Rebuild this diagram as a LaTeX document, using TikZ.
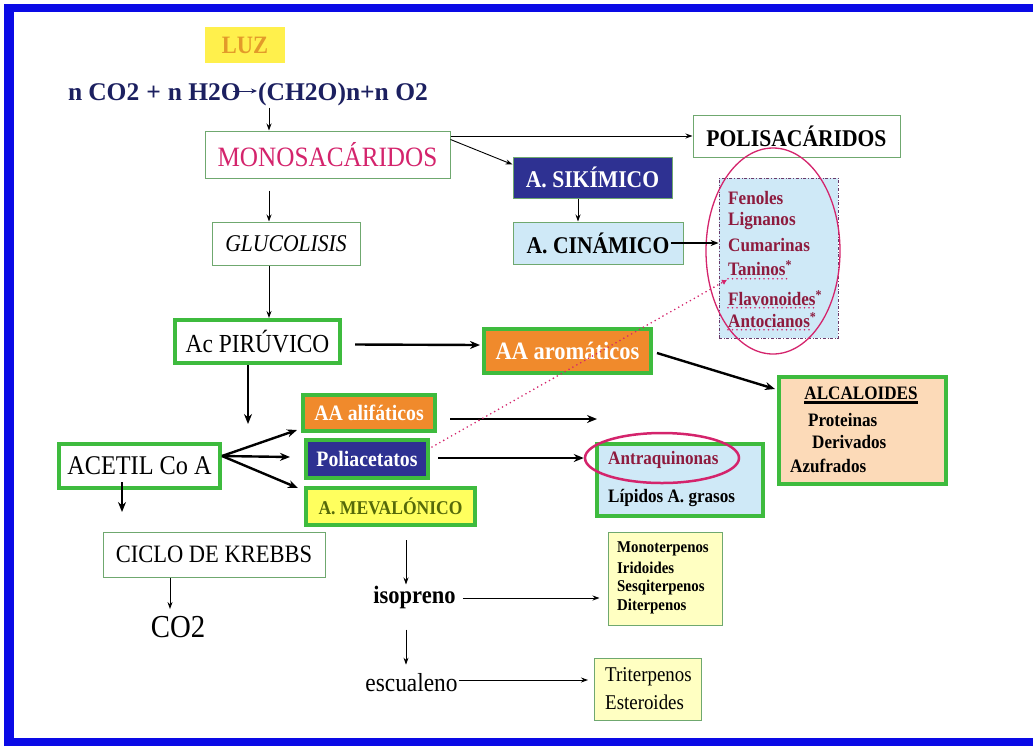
\documentclass[tikz,border=0pt]{standalone}
\usepackage{fontspec}
\setmainfont[FakeStretch=0.9]{Liberation Serif}
\newfontfamily\eqfont{Liberation Serif}
\usetikzlibrary{arrows.meta,calc,shapes.geometric}

\definecolor{frameblue}{HTML}{0A0AE6}
\definecolor{navybox}{HTML}{2E3192}
\definecolor{orangebox}{HTML}{F08A2C}
\definecolor{yellowbox}{HTML}{FFFF5E}
\definecolor{paleyellow}{HTML}{FFFFC2}
\definecolor{paleblue}{HTML}{CFE9F7}
\definecolor{peach}{HTML}{FCDAB8}
\definecolor{thingreen}{HTML}{6FA86F}
\definecolor{thickgreen}{HTML}{3EBB3E}
\definecolor{maroon}{HTML}{8E1B3E}
\definecolor{rosy}{HTML}{D4246C}
\definecolor{eqnavy}{HTML}{1C2060}
\definecolor{luzgold}{HTML}{E39A2A}
\definecolor{luzbox}{HTML}{FFF04C}
\definecolor{olivetext}{HTML}{55690A}
\definecolor{listframe}{HTML}{6A3A6A}

\newcommand\fsz[1]{\fontsize{#1}{#1}\selectfont}

\tikzset{
  thinbox/.style={draw=thingreen, line width=1pt, fill=white, inner sep=0pt},
  thickbox/.style={draw=thickgreen, line width=4pt, inner sep=0pt},
  txt/.style={inner sep=0pt, anchor=west},
  eqtext/.style={inner sep=0pt, text=eqnavy, font=\eqfont\fsz{25.5}\bfseries},
  arr/.style={-{Stealth[length=7pt,width=5pt]}, line width=0.9pt},
  midarr/.style={-{Stealth[length=8pt,width=6pt]}, line width=1.4pt},
  bigarr/.style={-{Stealth[length=10pt,width=8pt]}, line width=2.4pt},
  pinkdots/.style={rosy, line width=1.8pt, line cap=round, dash pattern=on 0pt off 4.5pt},
}

\begin{document}
\begin{tikzpicture}[x=1pt,y=-1pt]
\useasboundingbox (0,0) rectangle (1033,748);

% blue frame
\fill[frameblue] (4,4) rectangle (1033,12);
\fill[frameblue] (4,4) rectangle (14,746);
\fill[frameblue] (4,738) rectangle (1033,746);

% photosynthesis
\node[fill=luzbox, minimum width=80pt, minimum height=36pt, text=luzgold,
      font=\fsz{25}\bfseries] (luz) at (245,45) {LUZ};
\node[eqtext, anchor=base east] (eqL) at (241,100)
  {n\hspace{6pt}CO2\hspace{7pt}+\hspace{7pt}n H2O};
\node[eqtext, anchor=base west] (eqR) at (258,100) {(CH2O)n+n O2};
\draw[-{Stealth[length=6pt,width=5pt]}, line width=1pt, eqnavy]
  ($(eqL.base east)+(-8,-9)$) -- ($(eqR.base west)+(-1,-9)$);

% carbohydrate branch
\node[thinbox, minimum width=245pt, minimum height=47pt, text=rosy, font=\fsz{28}]
  (mono) at (327.5,154.5) {MONOSACÁRIDOS};
\node[thinbox, minimum width=207pt, minimum height=42pt, font=\fsz{24}\bfseries]
  (poli) at (796.5,136) {POLISACÁRIDOS};
\node[thinbox, fill=navybox, minimum width=159pt, minimum height=41pt, text=white,
      font=\fsz{24}\bfseries] (sik) at (592.5,177.5) {A. SIKÍMICO};
\node[thinbox, fill=paleblue, minimum width=170pt, minimum height=42pt,
      font=\fsz{24}\bfseries] (cin) at (598,243) {A. CINÁMICO};

% phenolic products
\node[draw=listframe, dash dot, line width=0.8pt, fill=paleblue, minimum width=119pt,
      minimum height=160pt] (list) at (778.5,258) {};
\begin{scope}[every node/.style={txt, text=maroon, font=\fsz{19}\bfseries}]
  \node (fen) at (728,198) {Fenoles};
  \node (lig) at (728,221) {Lignanos};
  \node (cum) at (728,245) {Cumarinas};
  \node (tan) at (728,268) {Taninos\textsuperscript{*}};
  \node (fla) at (728,298) {Flavonoides\textsuperscript{*}};
  \node (ant) at (728,320) {Antocianos\textsuperscript{*}};
\end{scope}
\draw[pinkdots] ($(tan.south west)+(0,3)$) -- ($(tan.south east)+(-5,3)$);
\draw[pinkdots] ($(fla.south west)+(0,2)$) -- ($(fla.south east)+(-5,2)$);
\draw[pinkdots] ($(ant.south west)+(0,2)$) -- ($(ant.south east)+(-5,2)$);
\node[ellipse, draw=rosy, line width=1.3pt, minimum width=134pt, minimum height=206pt,
      inner sep=0pt] (ell) at (773,251) {};

% glycolysis column
\node[thinbox, minimum width=148pt, minimum height=43pt, font=\fsz{24}\itshape]
  (glu) at (286,243.5) {GLUCOLISIS};
\node[thickbox, fill=white, minimum width=165pt, minimum height=43pt, font=\fsz{26}]
  (pir) at (257.5,341.5) {Ac PIRÚVICO};
\node[thickbox, fill=orangebox, minimum width=167pt, minimum height=44pt, text=white,
      font=\fsz{25}\bfseries] (aro) at (567.5,351) {AA aromáticos};

% alkaloids
\node[thickbox, fill=peach, minimum width=167pt, minimum height=107pt] (alc) at (862.5,430.5) {};
\node[inner sep=0pt, font=\fsz{19}\bfseries] (alct) at (861,393) {ALCALOIDES};
\draw[line width=2.6pt] ($(alct.south west)+(0,3)$) -- ($(alct.south east)+(0,3)$);
\begin{scope}[every node/.style={txt, font=\fsz{19}\bfseries}]
  \node (prot) at (808,420) {Proteinas};
  \node (deri) at (812,442) {Derivados};
  \node (azuf) at (790,466) {Azufrados};
\end{scope}

% acetyl-CoA branch
\node[thickbox, fill=white, minimum width=161pt, minimum height=44pt, font=\fsz{27}]
  (ace) at (139.5,466) {ACETIL Co A};
\node[thickbox, fill=orangebox, minimum width=132pt, minimum height=36pt, text=white,
      font=\fsz{22}\bfseries] (alif) at (369,413) {AA alifáticos};
\node[thickbox, fill=navybox, minimum width=122pt, minimum height=38pt, text=white,
      font=\fsz{22}\bfseries] (polia) at (367,459) {Poliacetatos};
\node[thickbox, fill=yellowbox, minimum width=169pt, minimum height=37pt, text=olivetext,
      font=\fsz{19.5}\bfseries] (mev) at (390.5,506.5) {A. MEVALÓNICO};

% polyketide products
\node[thickbox, fill=paleblue, minimum width=166pt, minimum height=72pt] (antbox) at (680,480) {};
\node[txt, text=maroon, font=\fsz{19}\bfseries] (antq) at (608,460) {Antraquinonas};
\node[txt, font=\fsz{19}\bfseries] (lip) at (608,498) {Lípidos A. grasos};
\node[ellipse, draw=rosy, line width=2.5pt, minimum width=154pt, minimum height=50pt,
      inner sep=0pt] (antell) at (662,458) {};

% Krebs cycle
\node[thinbox, minimum width=222pt, minimum height=45pt, font=\fsz{25}]
  (krebbs) at (214,554.5) {CICLO DE KREBBS};
\node[inner xsep=0pt, inner ysep=7pt, font=\fsz{32}] (co2) at (178,627) {CO2};

% terpenoid route
\node[inner sep=1pt, font=\fsz{25}\bfseries] (iso) at (414.5,597) {isopreno};
\node[inner sep=1pt, font=\fsz{26}] (esc) at (411.5,683) {escualeno};
\node[thinbox, fill=paleyellow, minimum width=114pt, minimum height=93pt] (terp1) at (665,578.5) {};
\begin{scope}[every node/.style={txt, font=\fsz{16.5}\bfseries}]
  \node (mt) at (617,549) {Monoterpenos};
  \node (ir) at (617,568) {Iridoides};
  \node (sq) at (617,588) {Sesqiterpenos};
  \node (dt) at (617,607) {Diterpenos};
\end{scope}
\node[thinbox, fill=paleyellow, minimum width=107pt, minimum height=62pt] (terp2) at (648,689) {};
\begin{scope}[every node/.style={txt, font=\fsz{21}}]
  \node (tri) at (605,677) {Triterpenos};
  \node (est) at (605,702) {Esteroides};
\end{scope}

% column guides for vertical connectors
\coordinate (cA) at (269,0);
\coordinate (cB) at (578,0);
\coordinate (cC) at (248,0);
\coordinate (cD) at (122,0);
\coordinate (cE) at (170,0);
\coordinate (cF) at (406,0);
\coordinate (pdrop) at (248,424);
\coordinate (adrop) at (122,512);
\coordinate (alifend) at (597,419);

% connectors
\draw[arr] ($(eqR.south -| cA)+(0,2)$) -- (mono.north -| cA);
\draw[arr] (mono.east |- poli.west) -- (poli.west);
\draw[arr] ($(mono.north east)+(0,9)$) -- ($(sik.north west)+(0,8)$);
\draw[arr] (sik.south -| cB) -- (cin.north -| cB);
\draw[midarr] ($(cin.east)+(-13,0)$) -- (list.west |- cin.east);
\draw[arr] ($(mono.south -| cA)+(0,12)$) -- (glu.north -| cA);
\draw[arr] (glu.south -| cA) -- (pir.north -| cA);
\draw[bigarr] ($(pir.east)+(13,3)$) -- ($(aro.west)+(-2,-6)$);
\draw[bigarr] ($(aro.east)+(4,2)$) -- ($(alc.north west)+(-2,14)$);
\draw[bigarr] (pir.south -| cC) -- (pdrop);
\draw[bigarr] ($(ace.east)+(0,-10)$) -- ($(alif.south west)+(-4,-3)$);
\draw[bigarr] ($(ace.east)+(0,-10)$) -- ($(polia.west)+(-14,-2)$);
\draw[bigarr] ($(ace.east)+(0,-10)$) -- ($(mev.north west)+(-6,2)$);
\draw[bigarr] ($(alif.east)+(13,6)$) -- (alifend);
\draw[bigarr] ($(polia.east)+(8,-1)$) -- (antell.west);
\draw[bigarr] ($(ace.south -| cD)+(0,-8)$) -- (adrop);
\draw[arr] (krebbs.south -| cE) -- (co2.north -| cE);
\draw[arr] ($(mev.south -| cF)+(0,13)$) -- (iso.north -| cF);
\draw[arr] ($(iso.south -| cF)+(0,20)$) -- ($(esc.north -| cF)+(0,-8)$);
\draw[arr] ($(iso.east)+(6,1)$) -- ($(terp1.west |- iso.east)+(-8,1)$);
\draw[arr] ($(esc.east)+(0,-3)$) -- ($(terp2.west |- esc.east)+(-6,-3)$);

% dotted link from the polyketides to the tannins
\draw[pinkdots, -{Latex[length=5pt,width=6pt]}] ($(polia.north east)+(2,9)$) -- ($(tan.south west)+(-1,4)$);
\end{tikzpicture}
\end{document}
